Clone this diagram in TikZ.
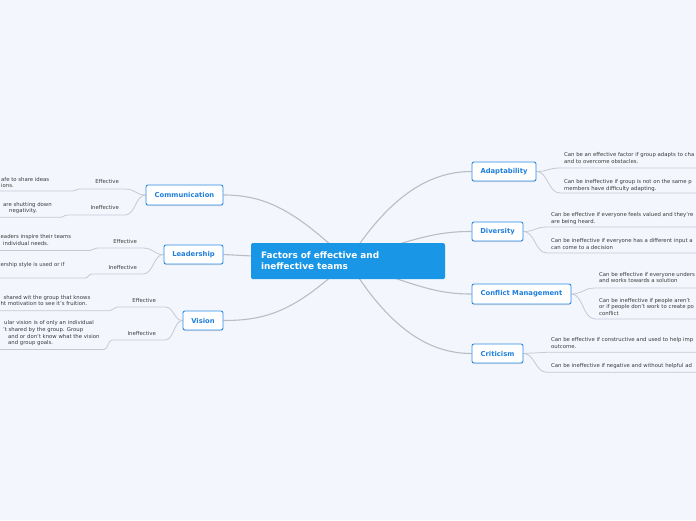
\documentclass[tikz,border=0pt]{standalone}
\usepackage{fontspec}
\setmainfont{DejaVu Sans}
\usetikzlibrary{shadows}
\definecolor{bg}{HTML}{F4F6FD}
\definecolor{mainblue}{HTML}{1A96E6}
\definecolor{bordblue}{HTML}{2D8CE6}
\definecolor{txtblue}{HTML}{1F7FDB}
\definecolor{linegrey}{HTML}{B9BDC8}
\definecolor{ulgrey}{HTML}{C6C9D3}
\definecolor{leaftxt}{HTML}{3A3A3A}
\pgfdeclarelayer{bgl}
\pgfdeclarelayer{edges}
\pgfsetlayers{bgl,edges,main}
\tikzset{
  topic/.style={draw=bordblue, line width=0.9pt, fill=white, rounded corners=2pt,
    text=txtblue, font=\fontsize{6.8}{8}\selectfont\bfseries, inner sep=0pt,
    minimum height=19pt,
    drop shadow={shadow xshift=0pt, shadow yshift=-1pt, opacity=0.25}},
  central/.style={fill=mainblue, rounded corners=1.5pt, text=white,
    font=\fontsize{8.9}{11.3}\selectfont\bfseries, align=left,
    inner xsep=10pt, inner ysep=0pt, text width=174pt, minimum height=36pt},
  conn/.style={draw=linegrey, line width=1.1pt},
  uline/.style={draw=ulgrey, line width=0.8pt},
  leaf/.style={font=\fontsize{5.35}{6.6}\selectfont, text=leaftxt, inner sep=0pt,
    align=left, anchor=base west},
  lbl/.style={font=\fontsize{5.35}{6.6}\selectfont, text=leaftxt, inner sep=0pt,
    anchor=base east}
}
\begin{document}
\begin{tikzpicture}[x=1pt,y=-1pt]
\useasboundingbox (0,0) rectangle (696,520);
\begin{pgfonlayer}{bgl}
  \fill[bg] (0,0) rectangle (696,520);
\end{pgfonlayer}

% central and topics
\node[central] (ctr) at (348,261) {Factors of effective and\\ineffective teams};
\node[topic, minimum width=77pt, minimum height=20pt] (comm) at (184.5,195) {Communication};
\node[topic, minimum width=59pt] (lead) at (193.5,254.5) {Leadership};
\node[topic, minimum width=40pt] (vis) at (203,320.5) {Vision};
\node[topic, minimum width=64pt] (adapt) at (504,171.5) {Adaptability};
\node[topic, minimum width=51pt] (div) at (497.5,231.5) {Diversity};
\node[topic, minimum width=99pt, minimum height=20pt] (conf) at (521.5,294) {Conflict Management};
\node[topic, minimum width=51pt] (crit) at (497.5,353.5) {Criticism};

% right leaves (anchored at the baseline of their last line)
\node[leaf] (ae) at (564,163.2) {Can be an effective factor if group adapts to cha\\and to overcome obstacles.};
\node[leaf] (ai) at (564,190.2) {Can be ineffective if group is not on the same p\\members have difficulty adapting.};
\node[leaf] (de) at (551,223.2) {Can be effective if everyone feels valued and they're\\are being heard.};
\node[leaf] (di) at (551,249.2) {Can be ineffective if everyone has a different input a\\can come to a decision};
\node[leaf] (ce) at (599,282.6) {Can be effective if everyone unders\\and works towards a solution};
\node[leaf] (ci) at (599,315.2) {Can be ineffective if people aren't\\or if people don't work to create po\\conflict};
\node[leaf] (re) at (551,348.4) {Can be effective if constructive and used to help imp\\outcome.};
\node[leaf] (ri) at (551,367.9) {Can be ineffective if negative and without helpful ad};

\coordinate (ae1) at (560,168);   \coordinate (ae2) at (700,168);
\coordinate (ai1) at (560,193);   \coordinate (ai2) at (700,193);
\coordinate (de1) at (547,227);   \coordinate (de2) at (700,227);
\coordinate (di1) at (547,253);   \coordinate (di2) at (700,253);
\coordinate (ce1) at (595,288);   \coordinate (ce2) at (700,288);
\coordinate (ci1) at (595,319);   \coordinate (ci2) at (700,319);
\coordinate (re1) at (547,352.3); \coordinate (re2) at (700,352.3);
\coordinate (ri1) at (547,372.3); \coordinate (ri2) at (700,372.3);

% left labels
\node[lbl] (cel) at (119,183.8) {Effective};
\node[lbl] (cil) at (119,209.8) {Ineffective};
\node[lbl] (lel) at (137,243.6) {Effective};
\node[lbl] (lil) at (137,269.6) {Ineffective};
\node[lbl] (vel) at (156,302.6) {Effective};
\node[lbl] (vil) at (156,335.6) {Ineffective};

% left leaves (anchored at the baseline of their last line)
\node[leaf] (cet) at (1,187.6) {afe to share ideas\\ions.};
\node[leaf] (cit) at (3,212.8) {are shutting down\\\hspace*{6pt}negativity.};
\node[leaf] (let) at (0.5,245.2) {eaders inspire their teams\\\hspace*{2.5pt}individual needs.};
\node[leaf] (lit) at (0.5,266.6) {ership style is used or if};
\node[leaf] (vet) at (0.5,305.8) {\hspace*{2.8pt}shared wit the group that knows\\ht motivation to see it's fruition.};
\node[leaf] (vit) at (3,344.6) {\hspace*{1pt}ular vision is of only an individual\\'t shared by the group. Group\\\hspace*{5pt}and or don't know what the vision\\\hspace*{5pt}and group goals.};

% left underline coordinates
\coordinate (ceR) at (125,189);  \coordinate (ceL) at (80,189);  \coordinate (ceL2) at (72,191);  \coordinate (ceE) at (-5,191);
\coordinate (ciR) at (125,215);  \coordinate (ciL) at (68,215);  \coordinate (ciL2) at (60,217.3); \coordinate (ciE) at (-5,217.3);
\coordinate (leR) at (143,248);  \coordinate (leL) at (97,248);  \coordinate (leL2) at (90,250.5); \coordinate (leE) at (-5,250.5);
\coordinate (liR) at (143,274);  \coordinate (liL) at (92,274);  \coordinate (liL2) at (85,278);  \coordinate (liE) at (-5,278);
\coordinate (veR) at (165,307);  \coordinate (veL) at (117,307); \coordinate (veL2) at (110,310.7); \coordinate (veE) at (-5,310.7);
\coordinate (viR) at (165,340);  \coordinate (viL) at (112,340); \coordinate (viL2) at (104,349.5); \coordinate (viE) at (-5,349.5);

\begin{pgfonlayer}{edges}
  % central connectors
  \draw[conn] (ctr.center) .. controls (295,210) and (265,195) .. (comm.east);
  \draw[conn] (ctr.center) -- (lead.east);
  \draw[conn] (ctr.center) .. controls (295,312) and (265,320.5) .. (vis.east);
  \draw[conn] (ctr.center) .. controls (390,195) and (430,171.5) .. (adapt.west);
  \draw[conn] (ctr.center) .. controls (420,236) and (440,231.5) .. (div.west);
  \draw[conn] (ctr.center) .. controls (420,288) and (440,294) .. (conf.west);
  \draw[conn] (ctr.center) .. controls (390,330) and (430,353.5) .. (crit.west);

  % right leaf connectors
  \draw[uline] (adapt.east) .. controls (548,171.5) and (548,168) .. (ae1) -- (ae2);
  \draw[uline] (adapt.east) .. controls (548,171.5) and (548,193) .. (ai1) -- (ai2);
  \draw[uline] (div.east) .. controls (535,231.5) and (535,227) .. (de1) -- (de2);
  \draw[uline] (div.east) .. controls (535,231.5) and (535,253) .. (di1) -- (di2);
  \draw[uline] (conf.east) .. controls (583,294) and (583,288) .. (ce1) -- (ce2);
  \draw[uline] (conf.east) .. controls (583,294) and (583,319) .. (ci1) -- (ci2);
  \draw[uline] (crit.east) .. controls (535,353.5) and (535,352.3) .. (re1) -- (re2);
  \draw[uline] (crit.east) .. controls (535,353.5) and (535,372.3) .. (ri1) -- (ri2);

  % left leaf connectors
  \draw[uline] (comm.west) .. controls (135.5,195) and (135.5,189) .. (ceR) -- (ceL) .. controls (76,189) and (76,191) .. (ceL2) -- (ceE);
  \draw[uline] (comm.west) .. controls (135.5,195) and (135.5,215) .. (ciR) -- (ciL) .. controls (64,215) and (64,217.3) .. (ciL2) -- (ciE);
  \draw[uline] (lead.west) .. controls (153.5,254.5) and (153.5,248) .. (leR) -- (leL) .. controls (93.5,248) and (93.5,250.5) .. (leL2) -- (leE);
  \draw[uline] (lead.west) .. controls (153.5,254.5) and (153.5,274) .. (liR) -- (liL) .. controls (88.5,274) and (88.5,278) .. (liL2) -- (liE);
  \draw[uline] (vis.west) .. controls (174,320.5) and (174,307) .. (veR) -- (veL) .. controls (113.5,307) and (113.5,310.7) .. (veL2) -- (veE);
  \draw[uline] (vis.west) .. controls (174,320.5) and (174,340) .. (viR) -- (viL) .. controls (108,340) and (108,349.5) .. (viL2) -- (viE);
\end{pgfonlayer}
\end{tikzpicture}
\end{document}
